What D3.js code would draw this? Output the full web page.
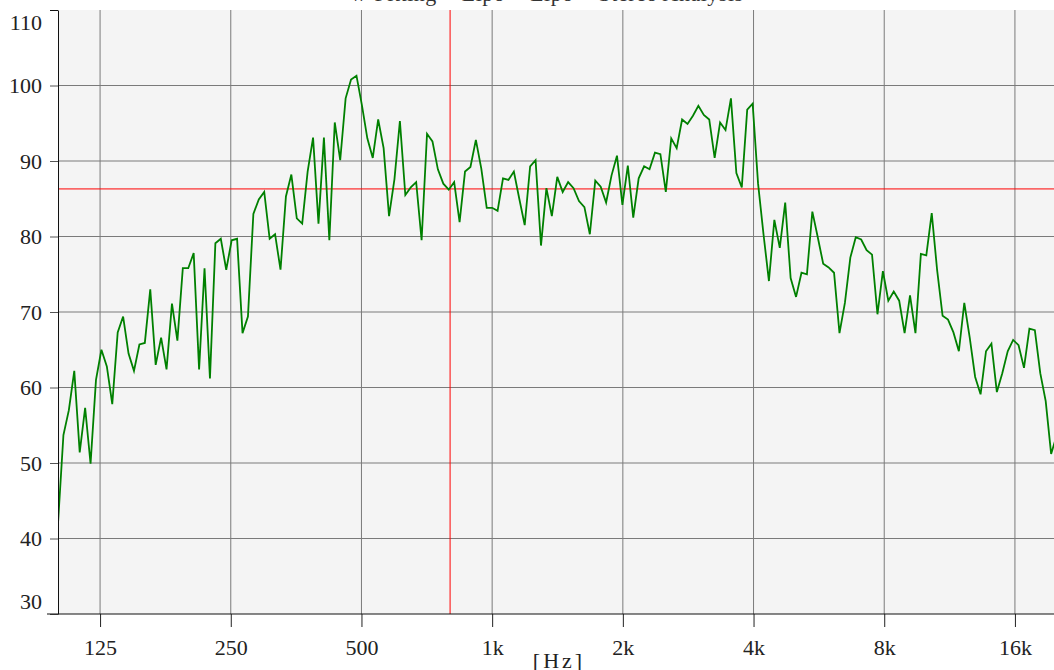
<!DOCTYPE html>
<html>
<head>
<meta charset="utf-8">
<script src="https://cdn.jsdelivr.net/npm/d3@7"></script>
<style>
  html, body { margin: 0; padding: 0; background: #fff; overflow: hidden; }
  svg { display: block; }
  svg text { font-family: "Liberation Serif", "DejaVu Serif", serif; }
</style>
</head>
<body>
<div id="chart"></div>
<script>
// 1/24-octave band levels, 100 Hz .. 20 kHz
// band n has centre 1000 * 10^(n/80), first band is 100 Hz
var firstBand = -80;
var levels = [
  42.0, 53.7, 57.0, 62.2, 51.4, 57.3, 49.9, 61.0, 65.0, 62.8,
  57.8, 67.3, 69.4, 64.5, 62.2, 65.7, 65.9, 73.0, 63.0, 66.6,
  62.4, 71.1, 66.2, 75.8, 75.8, 77.8, 62.4, 75.8, 61.2, 79.1,
  79.7, 75.6, 79.5, 79.7, 67.2, 69.4, 83.0, 84.9, 85.9, 79.7,
  80.3, 75.6, 85.3, 88.2, 82.4, 81.7, 88.6, 93.1, 81.7, 93.1,
  79.5, 95.1, 90.1, 98.3, 100.8, 101.3, 97.4, 93.0, 90.4, 95.5,
  91.7, 82.7, 87.6, 95.3, 85.5, 86.5, 87.2, 79.5, 93.6, 92.6,
  88.9, 87.0, 86.2, 87.2, 81.9, 88.6, 89.2, 92.8, 89.0, 83.8,
  83.8, 83.4, 87.7, 87.5, 88.6, 85.0, 81.5, 89.3, 90.1, 78.8,
  86.4, 82.7, 87.9, 85.9, 87.2, 86.4, 84.7, 83.9, 80.3, 87.4,
  86.6, 84.5, 88.1, 90.7, 84.2, 89.4, 82.5, 87.7, 89.3, 88.9,
  91.1, 90.9, 85.9, 93.0, 91.7, 95.5, 94.9, 96.0, 97.3, 96.1,
  95.5, 90.4, 95.1, 94.1, 98.3, 88.4, 86.5, 96.8, 97.6, 87.0,
  80.3, 74.1, 82.2, 78.5, 84.5, 74.5, 72.0, 75.2, 75.0, 83.3,
  79.9, 76.4, 75.9, 75.2, 67.2, 71.2, 77.2, 79.9, 79.6, 78.2,
  77.6, 69.7, 75.4, 71.5, 72.7, 71.5, 67.2, 72.2, 67.2, 77.7,
  77.5, 83.1, 75.5, 69.5, 69.0, 67.3, 64.8, 71.2, 66.6, 61.4,
  59.1, 64.8, 65.8, 59.4, 61.9, 64.8, 66.3, 65.6, 62.6, 67.8,
  67.6, 61.9, 58.2, 51.2, 53.6
];

var freqTicks = [125, 250, 500, 1000, 2000, 4000, 8000, 16000];
var freqLabels = ["125", "250", "500", "1k", "2k", "4k", "8k", "16k"];
var levelTicks = [30, 40, 50, 60, 70, 80, 90, 100, 110];
var markerFreq = 800;
var markerLevel = 86.3;
var title = "w-Fitting + Lipo + Lipo + Stereo Analysis";
var unitLabel = "[Hz]";

var width = 1054, height = 670;
var plotL = 58, plotR = 1057, plotT = 10, plotB = 614;
var serif = '"Liberation Serif", "DejaVu Serif", serif';

var data = levels.map(function (v, i) {
  return { f: 1000 * Math.pow(10, (firstBand + i) / 80), v: v };
});

var svg = d3.select("#chart").append("svg")
  .attr("width", width)
  .attr("height", height);

var x = d3.scaleLog().domain([100, 20000]).range([plotL, plotR]);
var y = d3.scaleLinear().domain([30, 110]).range([plotB, plotT]);

svg.append("defs").append("clipPath").attr("id", "plot")
  .append("rect")
  .attr("x", plotL).attr("y", plotT)
  .attr("width", plotR - plotL).attr("height", plotB - plotT);

// plot background
svg.append("rect")
  .attr("x", plotL).attr("y", plotT)
  .attr("width", plotR - plotL).attr("height", plotB - plotT)
  .attr("fill", "#f4f4f4");

// grid
svg.append("g").selectAll("line")
  .data(freqTicks)
  .enter().append("line")
  .attr("x1", function (d) { return x(d); })
  .attr("x2", function (d) { return x(d); })
  .attr("y1", plotT).attr("y2", plotB)
  .attr("stroke", "#7a7a7a").attr("stroke-width", 1);

svg.append("g").selectAll("line")
  .data(levelTicks.filter(function (d) { return d > 30 && d < 110; }))
  .enter().append("line")
  .attr("x1", plotL).attr("x2", plotR)
  .attr("y1", function (d) { return y(d); })
  .attr("y2", function (d) { return y(d); })
  .attr("stroke", "#7a7a7a").attr("stroke-width", 1);

// red markers
svg.append("line")
  .attr("x1", x(markerFreq)).attr("x2", x(markerFreq))
  .attr("y1", plotT).attr("y2", plotB)
  .attr("stroke", "#ff0000").attr("stroke-width", 1);
svg.append("line")
  .attr("x1", plotL).attr("x2", plotR)
  .attr("y1", y(markerLevel)).attr("y2", y(markerLevel))
  .attr("stroke", "#ff0000").attr("stroke-width", 1);

// response curve
var line = d3.line()
  .x(function (d) { return x(d.f); })
  .y(function (d) { return y(d.v); });

svg.append("path")
  .datum(data)
  .attr("clip-path", "url(#plot)")
  .attr("fill", "none")
  .attr("stroke", "#008000")
  .attr("stroke-width", 1.8)
  .attr("d", line);

// x axis
var xAxis = svg.append("g")
  .attr("transform", "translate(0," + plotB + ")")
  .call(d3.axisBottom(x)
    .tickValues(freqTicks)
    .tickFormat(function (d, i) { return freqLabels[i]; })
    .tickSize(13)
    .tickSizeOuter(0))
  .attr("font-size", 22);
xAxis.select(".domain").remove();
xAxis.selectAll(".tick line").attr("stroke", "#222");
xAxis.selectAll(".tick text")
  .attr("y", 41).attr("dy", null)
  .attr("fill", "#222")
  .style("font-family", serif);

// y axis
var yAxis = svg.append("g")
  .attr("transform", "translate(" + plotL + ",0)")
  .call(d3.axisLeft(y)
    .tickValues(levelTicks)
    .tickSize(8)
    .tickPadding(8)
    .tickSizeOuter(0))
  .attr("font-size", 22);
yAxis.select(".domain").attr("stroke", "#111");
yAxis.selectAll(".tick line").attr("stroke", "#555");
yAxis.selectAll(".tick text")
  .attr("fill", "#222")
  .style("font-family", serif)
  .attr("dy", function (d) {
    if (d === 110) return "0.9em";
    if (d === 30) return "-0.25em";
    return "0.32em";
  });
yAxis.selectAll(".tick").filter(function (d) { return d === 110; })
  .select("line").attr("stroke", "#111");

// bottom axis line, running a little past the y axis
svg.append("line")
  .attr("x1", 47).attr("x2", width)
  .attr("y1", plotB).attr("y2", plotB)
  .attr("stroke", "#111").attr("stroke-width", 1);

// title (mostly off the top of the page) and unit
svg.append("text")
  .attr("x", 547).attr("y", 1)
  .attr("text-anchor", "middle")
  .style("font-family", serif)
  .attr("font-size", 22)
  .attr("letter-spacing", 0.5)
  .attr("fill", "#333")
  .text(title);

svg.append("text")
  .attr("x", 559).attr("y", 668)
  .attr("text-anchor", "middle")
  .style("font-family", serif)
  .attr("font-size", 22)
  .attr("letter-spacing", 3)
  .attr("fill", "#222")
  .text(unitLabel);
</script>
</body>
</html>
